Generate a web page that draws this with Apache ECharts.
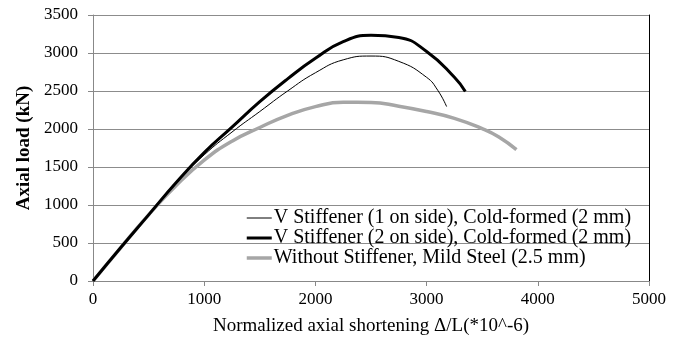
<!DOCTYPE html>
<html><head><meta charset="utf-8">
<script src="https://cdn.jsdelivr.net/npm/echarts@6/dist/echarts.min.js"></script>
<style>html,body{margin:0;padding:0;background:#fff}#c{width:683px;height:341px}</style>
</head><body><div id="c"></div>
<script>
const seriesNames = [
  'V Stiffener (1 on side), Cold-formed (2 mm)',
  'V Stiffener (2 on side), Cold-formed (2 mm)',
  'Without Stiffener, Mild Steel (2.5 mm)'
];
const oneSide = [[0,0],[250,440],[500,870],[750,1300],[1000,1660],[1250,1960],[1500,2230],[1750,2500],[2000,2740],[2250,2910],[2500,2960],[2750,2890],[3000,2680],[3100,2510],[3180,2295]];
const twoSide = [[0,0],[250,440],[500,870],[750,1300],[1000,1690],[1250,2025],[1500,2360],[1750,2660],[2000,2930],[2250,3150],[2500,3232],[2750,3205],[3000,3020],[3250,2680],[3348,2494]];
const noStiff = [[0,0],[250,440],[500,870],[750,1260],[1000,1590],[1250,1840],[1500,2020],[1750,2180],[2000,2295],[2250,2352],[2500,2350],[2750,2300],[3000,2230],[3250,2140],[3500,2005],[3650,1895],[3808,1728]];
const xTicks = {min:0, max:5000, interval:1000};
const yTicks = {min:0, max:3500, interval:500};

const font = 'Liberation Serif';
const chart = echarts.init(document.getElementById('c'), null, {renderer:'canvas'});
chart.setOption({
  animation:false,
  backgroundColor:'#fff',
  grid:{left:93, right:34, top:15, bottom:59, containLabel:false},
  legend:{
    orient:'vertical', left:245, top:208, itemWidth:25, itemHeight:12, itemGap:0,
    padding:0,
    itemStyle:{opacity:0},
    textStyle:{fontFamily:font, fontSize:20, lineHeight:20, color:'#000', padding:[0,0,0,-3]},
    data:[
      {name:seriesNames[0], lineStyle:{width:1, color:'#000'}},
      {name:seriesNames[1], lineStyle:{width:3, color:'#000'}},
      {name:seriesNames[2], lineStyle:{width:3.5, color:'#a6a6a6'}}
    ]
  },
  xAxis:{
    type:'value', min:xTicks.min, max:xTicks.max, interval:xTicks.interval,
    name:'Normalized axial shortening \u0394/L(*10^-6)', nameLocation:'middle', nameGap:36,
    nameTextStyle:{fontFamily:font, fontSize:19, color:'#000'},
    axisLine:{lineStyle:{color:'#888', width:1}},
    axisTick:{show:true, inside:false, length:5, lineStyle:{color:'#888'}},
    axisLabel:{fontFamily:font, fontSize:17, color:'#000', margin:10, formatter:v => String(v)},
    splitLine:{show:false}
  },
  yAxis:[{
    type:'value', min:yTicks.min, max:yTicks.max, interval:yTicks.interval,
    name:'Axial load (kN)', nameLocation:'middle', nameGap:58, nameRotate:90,
    nameTextStyle:{fontFamily:font, fontSize:19, fontWeight:'bold', color:'#000'},
    axisLine:{show:true, lineStyle:{color:'#888', width:1}},
    axisTick:{show:true, inside:false, length:5, lineStyle:{color:'#888'}},
    axisLabel:{fontFamily:font, fontSize:17, color:'#000', margin:15, formatter:v => String(v)},
    splitLine:{show:true, lineStyle:{color:'#8c8c8c', width:1}}
  },{
    type:'value', position:'right', min:yTicks.min, max:yTicks.max, interval:yTicks.interval,
    axisLine:{show:true, lineStyle:{color:'#000', width:1}},
    axisTick:{show:false}, axisLabel:{show:false}, splitLine:{show:false}
  }],
  series:[
    {name:seriesNames[0], type:'line', data:oneSide, smooth:0.5, symbol:'none',
     lineStyle:{color:'#000', width:1}, itemStyle:{color:'#000'}, z:4},
    {name:seriesNames[1], type:'line', data:twoSide, smooth:0.5, symbol:'none',
     lineStyle:{color:'#000', width:3}, itemStyle:{color:'#000'}, z:3},
    {name:seriesNames[2], type:'line', data:noStiff, smooth:0.5, symbol:'none',
     lineStyle:{color:'#a6a6a6', width:3.5}, itemStyle:{color:'#a6a6a6'}, z:2}
  ]
});
</script></body></html>
